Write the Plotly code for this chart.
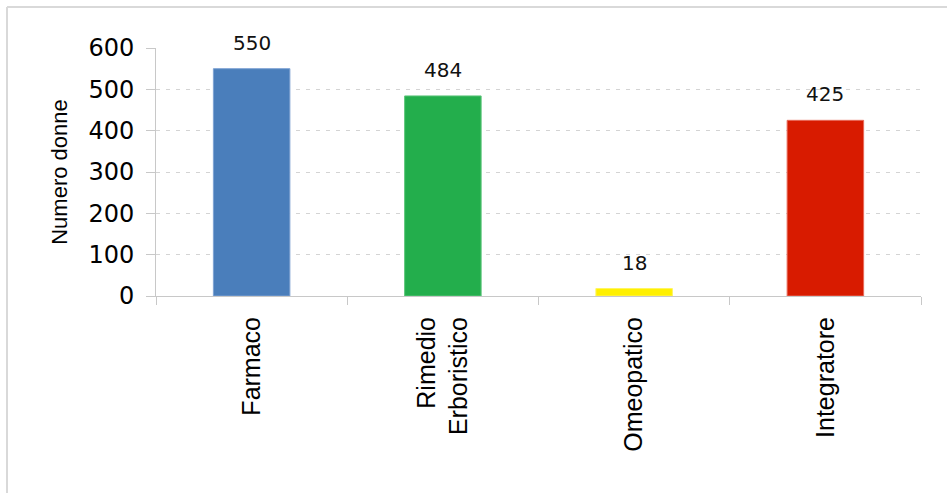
import plotly.graph_objects as go

categories = ["Farmaco", "Rimedio<br>Erboristico", "Omeopatico", "Integratore"]
values = [550, 484, 18, 425]
bar_colors = ["#4A7EBB", "#23AE4C", "#FFF000", "#D81B00"]
edge_colors = ["#7FA3D3", "#5CC57A", "#FFF560", "#E86A5A"]
y_ticks = [0, 100, 200, 300, 400, 500, 600]

W, H = 947, 493
L, R, T, B = 156, 26, 48, 197

fig = go.Figure(
    go.Bar(
        x=categories,
        y=values,
        width=0.4,
        marker=dict(color=bar_colors, line=dict(color=edge_colors, width=1)),
        hoverinfo="x+y",
    )
)

# value labels above each bar
for c, v in zip(categories, values):
    fig.add_annotation(
        x=c, y=v, text=str(v), showarrow=False, yanchor="bottom", yshift=12,
        font=dict(family="DejaVu Sans", size=20, color="#111111"),
    )

# light frame along the top and left edges of the page
pw, ph = W - L - R, H - T - B
fx0 = (7 - L) / pw
fy1 = (H - B - 7) / ph
fig.add_shape(type="line", xref="paper", yref="paper", x0=fx0, x1=(W - L) / pw,
              y0=fy1, y1=fy1, line=dict(color="#D9D9D9", width=2))
fig.add_shape(type="line", xref="paper", yref="paper", x0=fx0, x1=fx0,
              y0=-B / ph, y1=fy1, line=dict(color="#D9D9D9", width=2))

fig.update_layout(
    width=W, height=H,
    margin=dict(l=L, r=R, t=T, b=B, autoexpand=False),
    paper_bgcolor="white", plot_bgcolor="white",
    showlegend=False,
    bargap=0.6,
    xaxis=dict(
        type="category",
        tickson="boundaries",
        ticks="outside", ticklen=8, tickcolor="#C8C8C8", tickwidth=1,
        showline=True, linecolor="#C8C8C8", linewidth=1,
        showgrid=False,
        tickangle=-90,
        ticklabelstandoff=10,
        tickfont=dict(family="Liberation Sans", size=25, color="#000000"),
    ),
    yaxis=dict(
        range=[0, 600],
        tickvals=y_ticks,
        ticks="outside", ticklen=9, tickcolor="#C8C8C8", tickwidth=1,
        showline=True, linecolor="#C8C8C8", linewidth=1,
        showgrid=True, gridcolor="#D4D4D4", griddash="4px,6px", gridwidth=1,
        zeroline=False,
        ticklabelstandoff=7,
        tickfont=dict(family="DejaVu Sans", size=24, color="#000000"),
        title=dict(text="Numero donne", standoff=14,
                   font=dict(family="Liberation Sans", size=22, color="#000000")),
    ),
)

fig.write_html("out.html")
